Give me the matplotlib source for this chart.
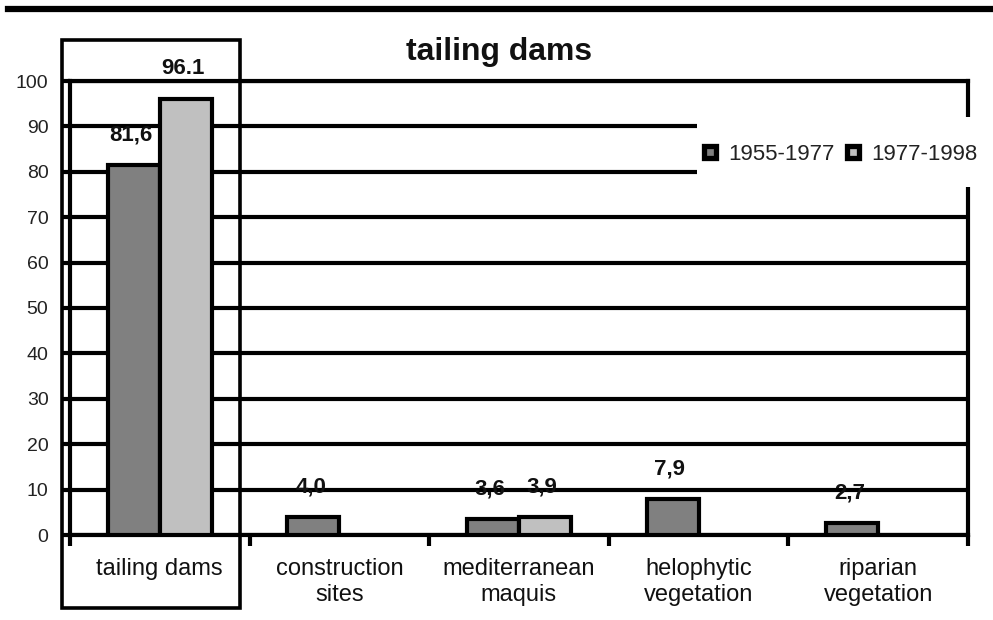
import numpy as np
import matplotlib
matplotlib.use("Agg")
import matplotlib.pyplot as plt
from matplotlib.lines import Line2D
from matplotlib.patches import Rectangle

plt.rcParams["font.family"] = ["Liberation Sans", "DejaVu Sans"]

categories = ["tailing dams", "construction\nsites", "mediterranean\nmaquis",
              "helophytic\nvegetation", "riparian\nvegetation"]
series_names = ["1955-1977", "1977-1998"]
p1_values = [81.6, 4.0, 3.6, 7.9, 2.7]
p2_values = [96.1, np.nan, 3.9, np.nan, np.nan]
p1_labels = ["81,6", "4,0", "3,6", "7,9", "2,7"]
p2_labels = ["96.1", "", "3,9", "", ""]
yticks = list(range(0, 101, 10))

DARK = "#808080"
LIGHT = "#c0c0c0"
LW = 3.0

W, H = 993, 620
fig = plt.figure(figsize=(W / 100, H / 100), dpi=100)


def fx(px):
    return px / W


def fy(py):
    return 1 - py / H


ax = fig.add_axes([fx(70), fy(535), fx(968) - fx(70), fy(81) - fy(535)])

x = np.arange(len(categories))
bw = 0.29
for vals, labs, col, off in ((p1_values, p1_labels, DARK, -bw / 2),
                             (p2_values, p2_labels, LIGHT, bw / 2)):
    v = np.array(vals, dtype=float)
    ok = ~np.isnan(v)
    ax.bar(x[ok] + off, v[ok], width=bw, color=col, edgecolor="black",
           linewidth=LW, zorder=3)
    for xi, vi, li in zip(x[ok], v[ok], np.array(labs)[ok]):
        ax.annotate(li, (xi + off, vi), xytext=(-2, 14), textcoords="offset points",
                    ha="center", va="bottom", fontsize=16, fontweight="bold",
                    color="#111", zorder=4)

ax.set_xlim(-0.5, len(categories) - 0.5)
ax.set_ylim(0, 100)
ax.set_yticks(yticks)
ax.yaxis.grid(True, color="black", linewidth=LW)
ax.set_axisbelow(True)
ax.tick_params(axis="y", direction="out", length=6.5, width=LW, labelsize=14,
               pad=9, labelcolor="#222")

ax.set_xticks(np.arange(-0.5, len(categories), 1.0))
ax.set_xticklabels([])
ax.set_xticks(x, minor=True)
ax.set_xticklabels(categories, minor=True)
ax.tick_params(axis="x", which="major", direction="out", length=8, width=LW)
ax.tick_params(axis="x", which="minor", length=0, pad=16.5, labelsize=17,
               labelcolor="#111")
for t in ax.get_xticklabels(minor=True):
    t.set_linespacing(1.25)

for s in ("left", "right", "bottom", "top"):
    ax.spines[s].set_linewidth(LW)

# frame around the first category, thick rule at the top
fig.patches.append(Rectangle((fx(62), fy(608)), fx(240) - fx(62), fy(40) - fy(608),
                             transform=fig.transFigure, fill=False,
                             edgecolor="black", linewidth=2.6, zorder=3))
fig.lines.append(Line2D([fx(8), 1.0], [fy(9), fy(9)], transform=fig.transFigure,
                        color="black", linewidth=4.5))

# white area behind the legend, cutting through the grid
fig.patches.append(Rectangle((fx(697), fy(187)), 1 - fx(697), fy(117) - fy(187),
                             transform=fig.transFigure, facecolor="white",
                             edgecolor="none", zorder=4))
handles = [Line2D([], [], linestyle="none", marker="s", markersize=8.5,
                  markerfacecolor=c, markeredgecolor="black", markeredgewidth=3.8)
           for c in (DARK, LIGHT)]
fig.legend(handles, series_names, loc="center left",
           bbox_to_anchor=(fx(699), fy(154)), ncol=2, frameon=False,
           fontsize=16, handlelength=1.0, handletextpad=0.3, columnspacing=0.35,
           borderpad=0, borderaxespad=0, labelcolor="#222").set_zorder(5)

fig.text(fx(499), fy(52), "tailing dams", ha="center", va="center",
         fontsize=23, fontweight="bold", color="#111")

fig.savefig("out.png", dpi=100)
